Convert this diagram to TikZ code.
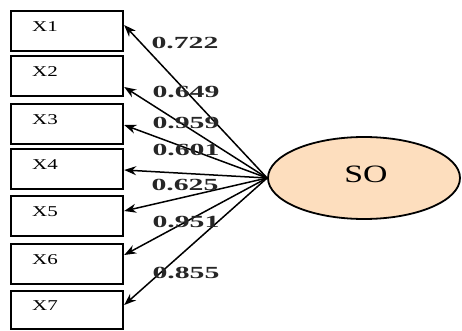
\documentclass[tikz,border=0pt]{standalone}
\usepackage{fontspec}
\setmainfont{Liberation Serif}
\usetikzlibrary{arrows.meta,shapes.geometric}
\definecolor{peach}{RGB}{253,222,190}
\begin{document}
\begin{tikzpicture}[x=1pt,y=-1pt,
  obs/.style={draw,line width=2.4pt,minimum width=112pt,minimum height=40pt,inner sep=0pt},
  xlab/.style={font=\fontsize{15}{15}\selectfont,xscale=1.4,transform shape,inner sep=0pt},
  coef/.style={font=\fontsize{17}{17}\selectfont\bfseries,xscale=1.75,transform shape,inner sep=0pt,text=black!85},
  arr/.style={-{Stealth[length=12pt,width=9pt]},line width=1.5pt}]
\useasboundingbox (0,0) rectangle (462,331);
\node[obs] (b1) at (67,31) {};
\node[obs] (b2) at (67,76) {};
\node[obs] (b3) at (67,124) {};
\node[obs] (b4) at (67,169) {};
\node[obs] (b5) at (67,216) {};
\node[obs] (b6) at (67,264) {};
\node[obs,minimum height=38pt] (b7) at (67,310) {};
\node[xlab] (l1) at (45,27) {X1};
\node[xlab] (l2) at (45,72) {X2};
\node[xlab] (l3) at (45,120) {X3};
\node[xlab] (l4) at (45,165) {X4};
\node[xlab] (l5) at (45,212) {X5};
\node[xlab] (l6) at (45,260) {X6};
\node[xlab] (l7) at (45,306) {X7};
\node[draw,line width=1.8pt,fill=peach,ellipse,minimum width=192pt,minimum height=82pt,inner sep=0pt] (so) at (364,178) {};
\node[font=\fontsize{25}{25}\selectfont,xscale=1.35,transform shape] (sot) at (366,174) {SO};
\draw[arr] (so.west) -- ([yshift=6pt]b1.east);
\draw[arr] (so.west) -- ([yshift=-11pt]b2.east);
\draw[arr] (so.west) -- ([yshift=-1pt]b3.east);
\draw[arr] (so.west) -- ([yshift=-1pt]b4.east);
\draw[arr] (so.west) -- ([yshift=5pt]b5.east);
\draw[arr] (so.west) -- ([yshift=9pt]b6.east);
\draw[arr] (so.west) -- ([yshift=5pt]b7.east);
\node[coef] (c1) at (185,43) {0.722};
\node[coef] (c2) at (186,92) {0.649};
\node[coef] (c3) at (186,123) {0.959};
\node[coef] (c4) at (186,150) {0.601};
\node[coef] (c5) at (185,185) {0.625};
\node[coef] (c6) at (186,222) {0.951};
\node[coef] (c7) at (186,273) {0.855};
\end{tikzpicture}
\end{document}
